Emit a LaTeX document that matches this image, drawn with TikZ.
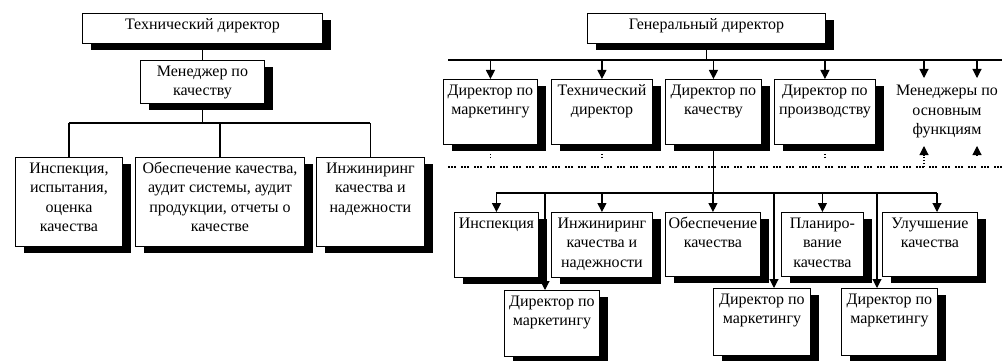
\documentclass[tikz,border=0pt]{standalone}
\usepackage{fontspec}
\setmainfont{Liberation Serif}
\usetikzlibrary{arrows.meta,shadows}
\newcommand{\boxfont}{\fontsize{16}{19.5}\selectfont}
\tikzset{
  box/.style 2 args={draw, line width=0.9pt, fill=white, inner sep=0pt, anchor=north west,
    drop shadow={shadow xshift=9pt, shadow yshift=-7pt, opacity=1, fill=black},
    execute at begin node={\begin{minipage}[t][#2][t]{#1}\centering\boxfont\rule{0pt}{16pt}},
    execute at end node={\end{minipage}}},
  conn/.style={line width=1.1pt},
  arr/.style={line width=1.1pt, -{Triangle[width=9pt,length=9pt]}},
  dotline/.style={line width=1.2pt, dash pattern=on 2pt off 1pt on 2pt off 1pt on 2pt off 5pt},
  dotmark/.style={line width=1.2pt, dash pattern=on 1.5pt off 1.5pt},
  plain/.style={font=\boxfont, align=center, inner sep=0pt, anchor=north},
}
\begin{document}
\begin{tikzpicture}[x=1pt, y=-1pt]
\useasboundingbox (0,0) rectangle (1002,361);
\node[box={240pt}{30pt}] (tq0) at (82,13) {Технический директор};
\node[box={124pt}{43pt}] (tq1) at (140,60) {Менеджер по\\качеству};
\draw[conn](tq0.south) -- (tq0.south |- tq1.north);
\coordinate (tqbar) at (0,123);
\node[box={107pt}{89pt}] (tq2) at (15,157) {Инспекция,\\испытания,\\оценка\\качества};
\node[box={169pt}{89pt}] (tq3) at (135,157) {Обеспечение качества,\\аудит системы, аудит\\продукции, отчеты о\\качестве};
\node[box={108pt}{89pt}] (tq4) at (316,157) {Инжиниринг\\качества и\\надежности};
\draw[conn](tq1.south) -- (tq1.south |- tqbar);
\draw[conn](tq2.north |- tqbar) -- (tq4.north |- tqbar);
\draw[conn](tq2.north |- tqbar) -- (tq2.north);
\draw[conn](tq3.north |- tqbar) -- (tq3.north);
\draw[conn](tq4.north |- tqbar) -- (tq4.north);
\node[box={238pt}{30pt}] (gd0) at (587,13) {Генеральный директор};
\coordinate (gbarL) at (448,60);
\coordinate (gbarR) at (1002,60);
\draw[conn](gd0.south) -- (gd0.south |- gbarL);
\draw[conn](gbarL) -- (gbarR);
\node[box={94pt}{65pt}] (gd1) at (443,79) {Директор по\\маркетингу};
\node[box={101pt}{65pt}] (gd2) at (551,79) {Технический\\директор};
\node[box={96pt}{65pt}] (gd3) at (665,79) {Директор по\\качеству};
\node[box={101pt}{65pt}] (gd4) at (774,79) {Директор по\\производству};
\node[plain] (gd5) at (947,85) {Менеджеры по\\основным\\функциям};
\coordinate (ge1) at (924,78);
\coordinate (ge2) at (977,78);
\draw[arr](gd1.north |- gbarL) -- (gd1.north);
\draw[arr](gd2.north |- gbarL) -- (gd2.north);
\draw[arr](gd3.north |- gbarL) -- (gd3.north);
\draw[arr](gd4.north |- gbarL) -- (gd4.north);
\draw[arr](ge1 |- gbarL) -- (ge1);
\draw[arr](ge2 |- gbarL) -- (ge2);
\coordinate (gdotL) at (448,167);
\coordinate (gdotR) at (1002,167);
\draw[dotline](gdotL) -- (gdotR);
\draw[dotmark]([yshift=-9pt]gd1.south) -- ([yshift=-15pt]gd1.south);
\draw[dotmark]([yshift=-9pt]gd2.south) -- ([yshift=-15pt]gd2.south);
\draw[dotmark]([yshift=-9pt]gd4.south) -- ([yshift=-15pt]gd4.south);
\coordinate (gu1) at (924,146);
\coordinate (gu2) at (977,146);
\draw[dotmark](gu1 |- gdotL) -- ([yshift=-8pt]gu1);
\draw[arr]([yshift=-9pt]gu1) -- (gu1);
\draw[arr]([yshift=-10pt]gu2) -- (gu2);
\coordinate (gb2L) at (496,193);
\coordinate (gb2R) at (937,193);
\draw[conn](gd3.south) -- (gd3.south |- gb2L);
\draw[conn](gb2L) -- (gb2R);
\node[box={84pt}{65pt}] (gd6) at (454,212) {Инспекция};
\node[box={101pt}{65pt}] (gd7) at (551,212) {Инжиниринг\\качества и\\надежности};
\node[box={95pt}{64pt}] (gd8) at (665,212) {Обеспечение\\качества};
\node[box={82pt}{64pt}] (gd9) at (781,212) {Планиро-\\вание\\качества};
\node[box={95pt}{64pt}] (gd10) at (882,212) {Улучшение\\качества};
\draw[arr](gd6.north |- gb2L) -- (gd6.north);
\draw[arr](gd7.north |- gb2L) -- (gd7.north);
\draw[arr](gd8.north |- gb2L) -- (gd8.north);
\draw[arr](gd9.north |- gb2L) -- (gd9.north);
\draw[arr](gb2R) -- (gb2R |- gd10.north);
\coordinate (gv1) at (545,193);
\coordinate (gv2) at (774,193);
\coordinate (gv3) at (877,193);
\node[box={95pt}{66pt}] (gd11) at (504,290) {Директор по\\маркетингу};
\node[box={97pt}{67pt}] (gd12) at (713,288) {Директор по\\маркетингу};
\node[box={96pt}{67pt}] (gd13) at (841,288) {Директор по\\маркетингу};
\draw[arr](gv1) -- (gv1 |- gd11.north);
\draw[arr](gv2) -- (gv2 |- gd12.north);
\draw[arr](gv3) -- (gv3 |- gd13.north);
\end{tikzpicture}
\end{document}
